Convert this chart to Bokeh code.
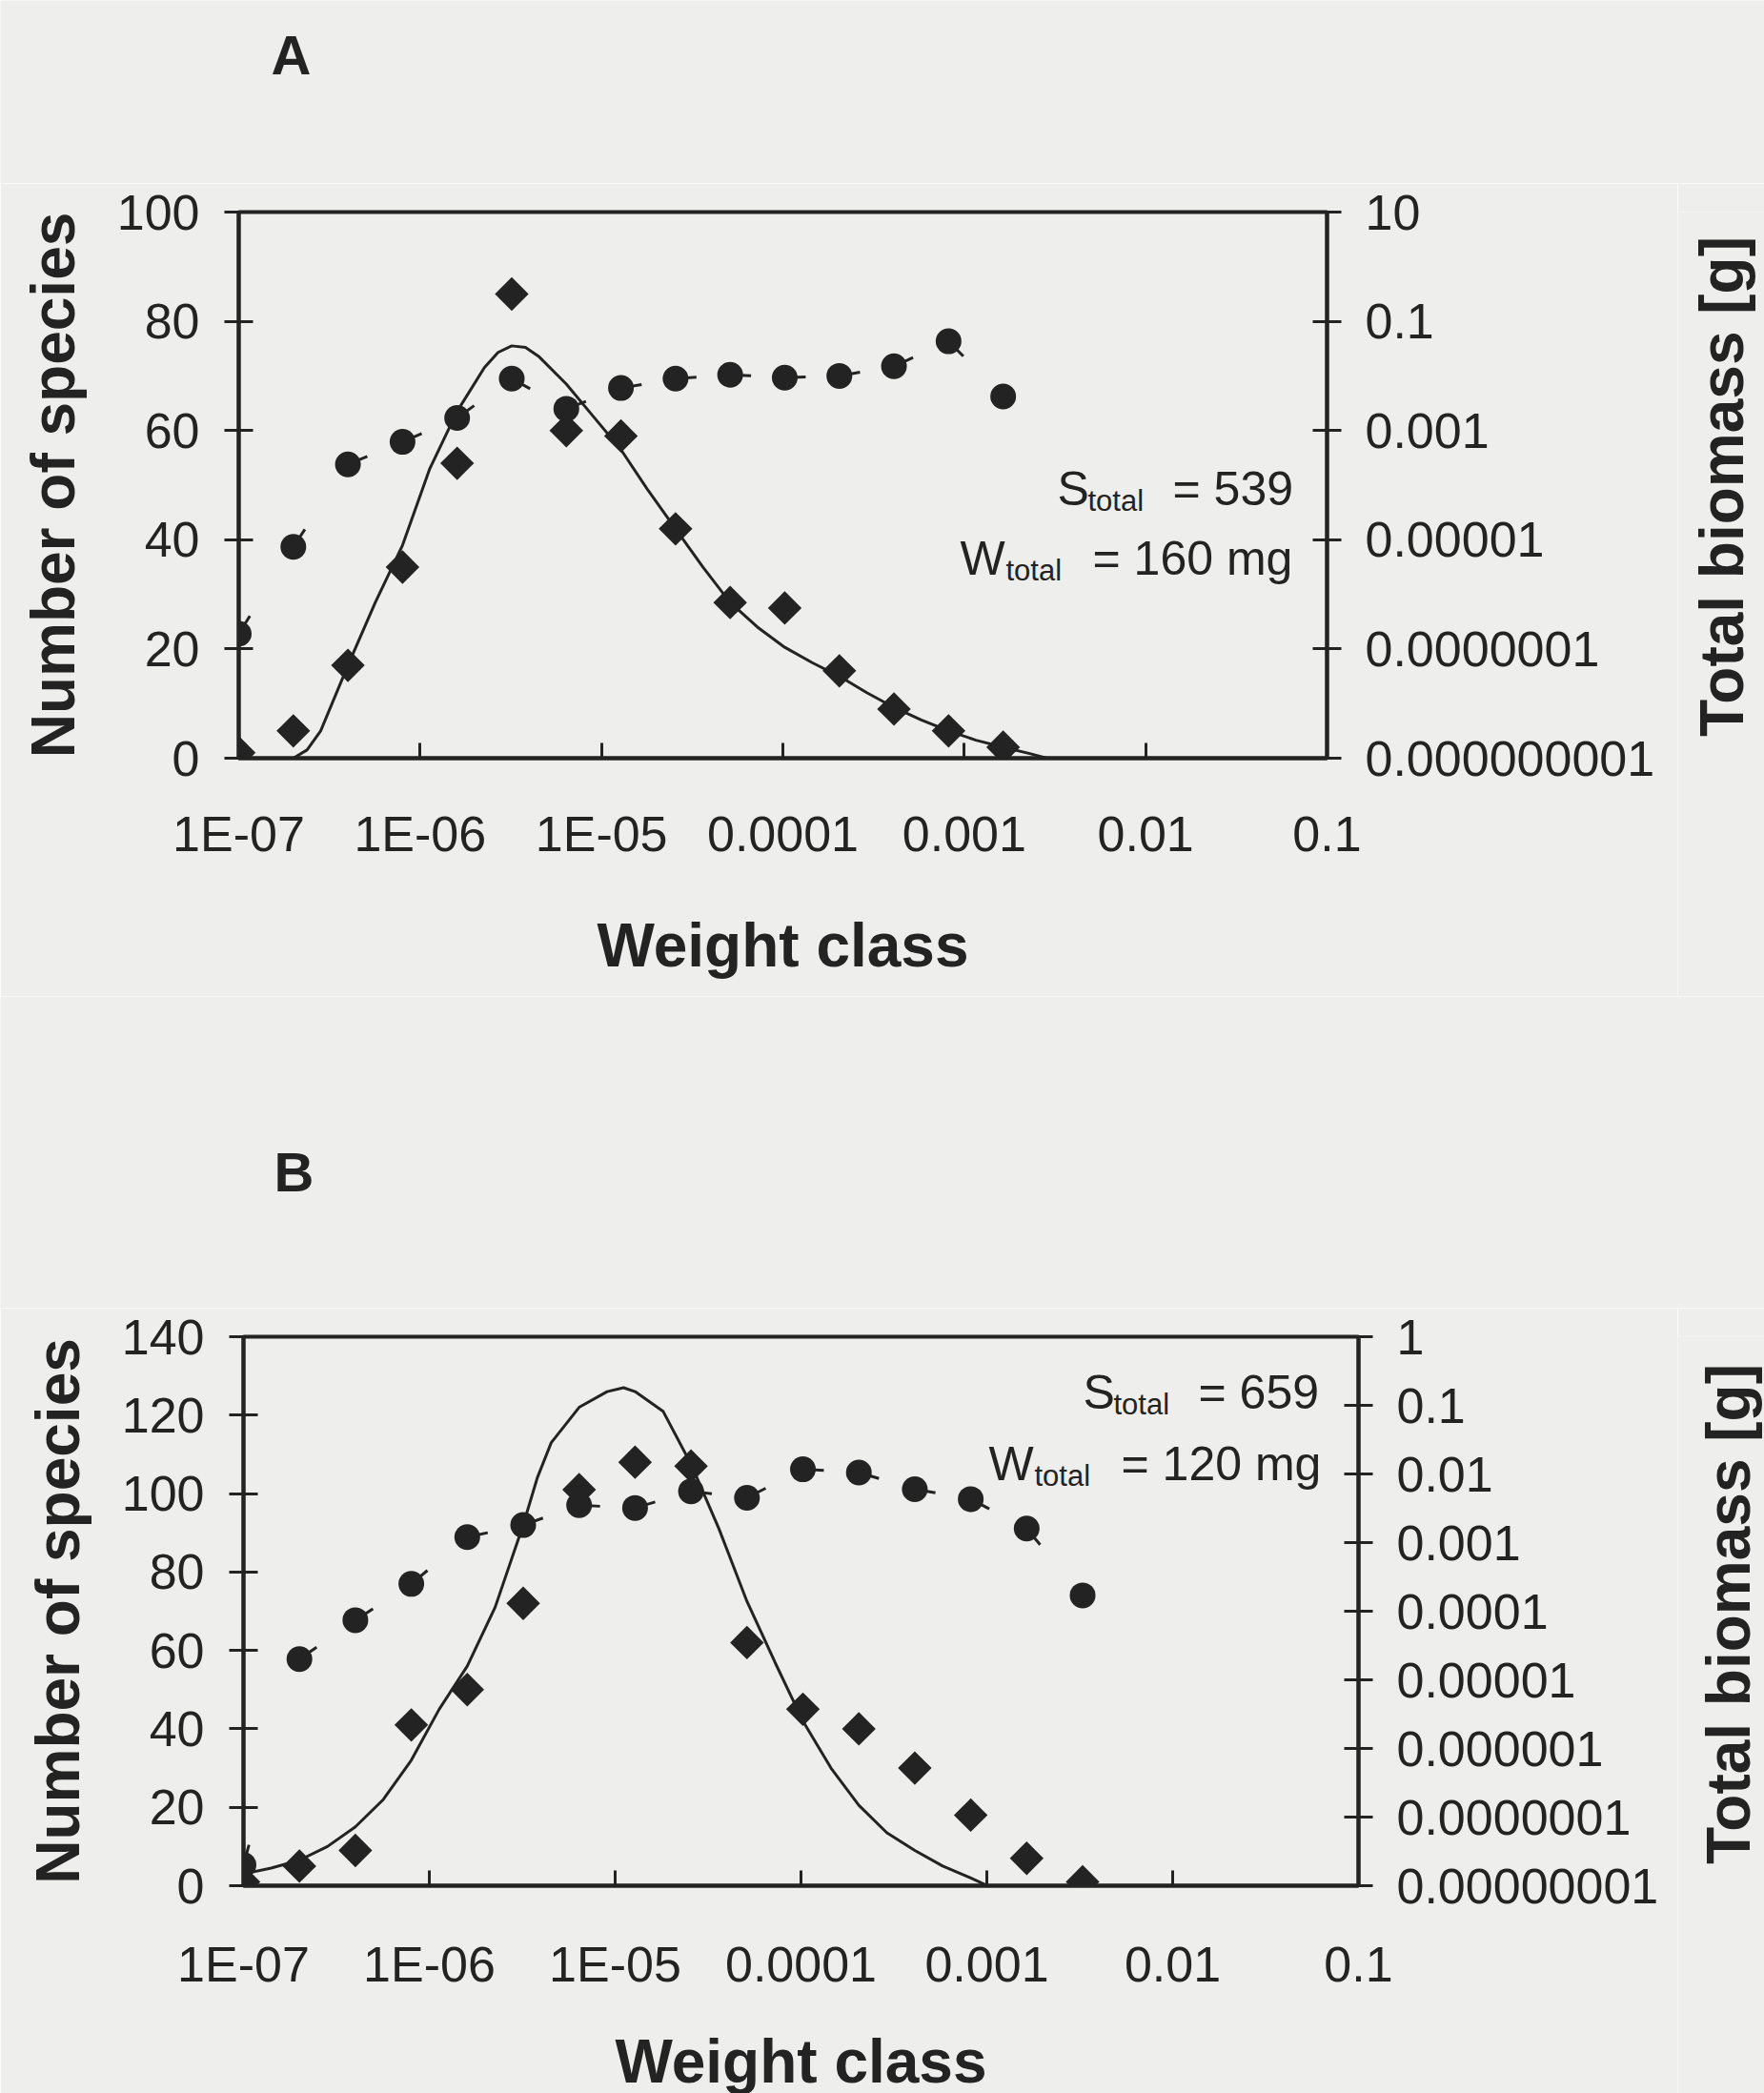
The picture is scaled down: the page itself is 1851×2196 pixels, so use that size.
import math
from bokeh.plotting import figure
from bokeh.models import Range1d, LogScale, LogAxis, FixedTicker, Label
from bokeh.layouts import column, row
from bokeh.embed import file_html
from bokeh.resources import INLINE
from bokeh.core.properties import value

# ---------------- data ----------------
# weight classes (g), doubling classes
weight_classes = [1e-7, 2e-7, 4e-7, 8e-7, 1.6e-6, 3.2e-6, 6.4e-6, 1.28e-5, 2.56e-5,
                  5.12e-5, 1.024e-4, 2.048e-4, 4.096e-4, 8.192e-4, 1.6384e-3, 3.2768e-3]

# Panel A
a_species = [1, 5, 17, 35, 54, 85, 60, 59, 42, 28.5, 27.5, 16, 9, 5, 2]
a_biomass = [1.9e-7, 7.4e-6, 2.4e-4, 6.2e-4, 1.7e-3, 8.9e-3, 2.5e-3, 6.0e-3, 8.9e-3,
             1.05e-2, 9.3e-3, 1.0e-2, 1.5e-2, 4.3e-2, 4.2e-3]
a_fit_w = [2.0e-7, 2.38e-7, 2.83e-7, 4.0e-7, 5.66e-7, 8.0e-7, 1.13e-6, 1.6e-6, 2.26e-6,
           2.69e-6, 3.2e-6, 3.81e-6, 4.53e-6, 6.4e-6, 9.05e-6, 1.28e-5, 1.81e-5, 2.56e-5,
           3.62e-5, 5.12e-5, 7.24e-5, 1.024e-4, 1.45e-4, 2.048e-4, 2.9e-4, 4.096e-4,
           5.79e-4, 8.19e-4, 1.16e-3, 1.64e-3, 2.32e-3, 2.85e-3]
a_fit_species = [0, 1.5, 5, 17, 28.5, 39, 53, 63.5, 71.5, 74.3, 75.5, 75.2, 73.5, 68.5,
                 62.5, 56.5, 49, 42, 35, 28.5, 24, 20.3, 17.5, 15, 12, 9.3, 7, 5, 3.3, 2,
                 0.8, 0]

# Panel B
b_species = [1, 5, 9, 41, 50, 72, 101, 108, 107, 62, 45, 40, 30, 18, 7, 1]
b_biomass = [2.0e-8, 2.0e-5, 7.4e-5, 2.5e-4, 1.2e-3, 1.8e-3, 3.5e-3, 3.2e-3, 5.6e-3,
             4.5e-3, 1.17e-2, 1.05e-2, 6.0e-3, 4.3e-3, 1.6e-3, 1.7e-4]
b_fit_w = [1.0e-7, 1.41e-7, 2.0e-7, 2.83e-7, 4.0e-7, 5.66e-7, 8.0e-7, 1.13e-6, 1.6e-6,
           2.26e-6, 3.2e-6, 3.81e-6, 4.53e-6, 6.4e-6, 9.05e-6, 1.11e-5, 1.28e-5, 1.81e-5,
           2.56e-5, 3.62e-5, 5.12e-5, 7.24e-5, 1.024e-4, 1.45e-4, 2.048e-4, 2.9e-4,
           4.096e-4, 5.79e-4, 8.19e-4, 1.01e-3]
b_fit_species = [3, 4.5, 6.5, 10, 15, 22, 32, 45, 56, 71, 92, 104, 113, 122, 126, 127, 126,
                 121, 107.5, 91, 72.5, 57, 42, 30, 20.5, 13.5, 9, 5, 2, 0]

# axes
x_ticks = [1e-7, 1e-6, 1e-5, 1e-4, 1e-3, 1e-2, 1e-1]
x_tick_labels = ["1E-07", "1E-06", "1E-05", "0.0001", "0.001", "0.01", "0.1"]
a_y_ticks = [0, 20, 40, 60, 80, 100]
b_y_ticks = [0, 20, 40, 60, 80, 100, 120, 140]
a_bio_ticks = [1e-9, 1e-7, 1e-5, 1e-3, 1e-1, 10]
a_bio_labels = ["0.000000001", "0.0000001", "0.00001", "0.001", "0.1", "10"]
b_bio_ticks = [1e-8, 1e-7, 1e-6, 1e-5, 1e-4, 1e-3, 1e-2, 1e-1, 1]
b_bio_labels = ["0.00000001", "0.0000001", "0.000001", "0.00001", "0.0001", "0.001",
                "0.01", "0.1", "1"]

# ---------------- style ----------------
BG = "#eeeeec"
INK = "#232323"
FONT = "Liberation Sans"
TICK_FS = "52px"
TITLE_FS = "64px"
TOTAL_W = 1851
MAIN_W = 1760
SIDE_W = TOTAL_W - MAIN_W


def style_axis(ax, tick_in, tick_out, standoff, label_standoff):
    ax.axis_line_color = INK
    ax.axis_line_width = 4
    ax.major_tick_line_color = INK
    ax.major_tick_line_width = 3
    ax.major_tick_in = tick_in
    ax.major_tick_out = tick_out
    ax.minor_tick_line_color = None
    ax.major_label_text_font = FONT
    ax.major_label_text_font_size = TICK_FS
    ax.major_label_text_color = INK
    ax.major_label_standoff = standoff
    ax.axis_label_text_font = FONT
    ax.axis_label_text_font_size = TITLE_FS
    ax.axis_label_text_font_style = "bold"
    ax.axis_label_text_color = INK
    ax.axis_label_standoff = label_standoff


def text_strip(width, height, x, y, text, size, angle=0.0, align="left",
               baseline="alphabetic"):
    f = figure(title=None, frame_width=width, frame_height=height,
               x_range=Range1d(0, width), y_range=Range1d(0, height), min_border=0,
               toolbar_location=None, output_backend="svg",
               background_fill_color=BG, border_fill_color=BG, outline_line_color=None,
               x_axis_location=None, y_axis_location=None)
    f.grid.visible = False
    f.text(x=[x], y=[y], text=[text], angle=angle, text_font=value(FONT),
           text_font_size=value(size), text_font_style="bold", text_color=INK,
           text_align=align, text_baseline=baseline)
    return f


def make_panel(species, biomass, fit_w, fit_s, y_max, y_ticks, bio_range,
               bio_ticks, bio_labels, frame_w, frame_h, bl, bt, bb,
               x_standoff, x_label_standoff, s_text, w_text, s_pos, w_pos):
    n = len(species)
    w = weight_classes[:n]
    p = figure(x_axis_type="log", x_range=Range1d(1e-7, 0.1), y_range=Range1d(0, y_max),
               frame_width=frame_w, frame_height=frame_h,
               min_border_left=bl, min_border_right=MAIN_W - bl - frame_w,
               min_border_top=bt, min_border_bottom=bb,
               output_backend="svg", toolbar_location=None,
               background_fill_color=BG, border_fill_color=BG)
    p.grid.visible = False
    p.outline_line_color = INK
    p.outline_line_width = 4
    p.outline_line_alpha = 1

    p.extra_y_ranges = {"bio": Range1d(*bio_range)}
    p.extra_y_scales = {"bio": LogScale()}

    # bottom axis
    xa = p.xaxis[0]
    xa.ticker = FixedTicker(ticks=x_ticks)
    xa.major_label_overrides = dict(zip(x_ticks, x_tick_labels))
    xa.axis_label = "Weight class"
    style_axis(xa, 16, 0, x_standoff, x_label_standoff)

    # left axis
    ya = p.yaxis[0]
    ya.ticker = FixedTicker(ticks=y_ticks)
    ya.axis_label = "Number of species"
    style_axis(ya, 15, 15, 26, 28)

    # right log axis (its title is drawn beside the plot, reading upwards)
    ra = LogAxis(y_range_name="bio", ticker=FixedTicker(ticks=bio_ticks),
                 major_label_overrides=dict(zip(bio_ticks, bio_labels)))
    style_axis(ra, 15, 15, 25, 10)
    p.add_layout(ra, "right")

    # fitted species curve
    p.line(fit_w, fit_s, line_color=INK, line_width=3)
    # biomass connecting dashed line (each segment restarts its dash)
    p.segment(x0=w[:-1], y0=biomass[:-1], x1=w[1:], y1=biomass[1:], y_range_name="bio",
              line_color=INK, line_width=3, line_dash="22 600")
    # markers
    p.scatter(w, biomass, y_range_name="bio", marker="circle", size=27,
              fill_color=INK, line_color=None)
    p.scatter(w, species, marker="square", angle=math.pi / 4, size=25,
              fill_color=INK, line_color=None)

    # annotations (screen units relative to plot frame)
    def lab(x, y, text, size):
        p.add_layout(Label(x=x, y=y, x_units="screen", y_units="screen", text=text,
                           text_font=FONT, text_font_size=size,
                           text_color=INK, text_baseline="alphabetic", text_align="left"))

    sx, sy = s_pos
    lab(sx, sy, "S", "50px")
    lab(sx + 32, sy - 13, "total", "31px")
    lab(sx + 121, sy, s_text, "50px")
    wx, wy = w_pos
    lab(wx, wy, "W", "50px")
    lab(wx + 48, wy - 13, "total", "31px")
    lab(wx + 139, wy, w_text, "50px")
    return p


# ---- panel A ----
topA_h = 192
topA = text_strip(TOTAL_W, topA_h, 284, topA_h - 81 + 24, "A", "58px")
bbA = 250
pa = make_panel(a_species, a_biomass, a_fit_w, a_fit_species, 100, a_y_ticks,
                (1e-9, 10), a_bio_ticks, a_bio_labels,
                frame_w=1142, frame_h=573, bl=250, bt=30, bb=bbA,
                x_standoff=50, x_label_standoff=49,
                s_text="= 539", w_text="= 160 mg",
                s_pos=(859, 283), w_pos=(757, 210))
mainA_h = 30 + 573 + bbA
sideA = text_strip(SIDE_W, mainA_h, 46, mainA_h - 316 + 28, "Total biomass [g]", TITLE_FS,
                   angle=math.pi / 2, align="center", baseline="middle")

# ---- panel B ----
topB_h = 1372 - (topA_h + mainA_h)
topB = text_strip(TOTAL_W, topB_h, 287, topB_h - (1250 - topA_h - mainA_h) + 21, "B",
                  "58px")
bbB = 218
pb = make_panel(b_species, b_biomass, b_fit_w, b_fit_species, 140, b_y_ticks,
                (1e-8, 1), b_bio_ticks, b_bio_labels,
                frame_w=1170, frame_h=576, bl=255, bt=30, bb=bbB,
                x_standoff=53, x_label_standoff=34,
                s_text="= 659", w_text="= 120 mg",
                s_pos=(881, 518), w_pos=(782, 443))
mainB_h = 30 + 576 + bbB
sideB = text_strip(SIDE_W, mainB_h, 53, mainB_h - 318 + 27, "Total biomass [g]", TITLE_FS,
                   angle=math.pi / 2, align="center", baseline="middle")

layout = column(topA, row(pa, sideA, spacing=0), topB, row(pb, sideB, spacing=0),
                spacing=0)
html = file_html(layout, INLINE)
html = html.replace("<body>", '<body style="background-color:#eeeeec;">', 1)
open("out.html", "w").write(html)
